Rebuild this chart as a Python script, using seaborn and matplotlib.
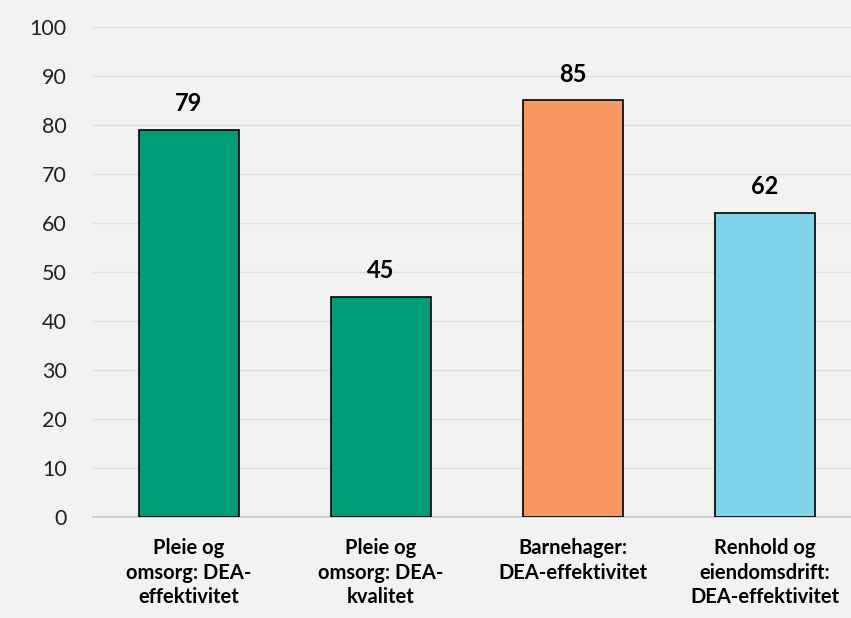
import matplotlib
matplotlib.use("Agg")
import matplotlib.pyplot as plt
import seaborn as sns
import pandas as pd

categories = ["Pleie og\nomsorg: DEA-\neffektivitet",
              "Pleie og\nomsorg: DEA-\nkvalitet",
              "Barnehager:\nDEA-effektivitet",
              "Renhold og\neiendomsdrift:\nDEA-effektivitet"]
values = [79, 45, 85, 62]
colors = ["#009B77", "#009B77", "#F79862", "#7FD4EA"]
yticks = [0, 10, 20, 30, 40, 50, 60, 70, 80, 90, 100]

sns.set_theme(style="white")
plt.rcParams['font.family'] = ['Lato', 'DejaVu Sans']

fig = plt.figure(figsize=(8.51, 6.18), dpi=100, facecolor="#F2F2F2")
ax = fig.add_axes([93/851, (618-517)/618, 1 - 93/851, (517-27)/618])
ax.set_facecolor("#F2F2F2")

df = pd.DataFrame({"cat": categories, "val": values})
sns.barplot(data=df, x="cat", y="val", hue="cat", palette=colors, legend=False,
            saturation=1, width=0.52, edgecolor="black", linewidth=1.2, ax=ax, zorder=3)

ax.set_ylim(0, 100)
ax.set_xlim(-0.5, 3.45)
ax.set_yticks(yticks)
ax.yaxis.grid(True, color="#E0E0E0", linewidth=1, zorder=0)
ax.set_axisbelow(True)
for s in ["top", "right", "left"]:
    ax.spines[s].set_visible(False)
ax.spines["bottom"].set_color("#C8C8C8")
ax.spines["bottom"].set_linewidth(1.2)
ax.set_xlabel("")
ax.set_ylabel("")
ax.tick_params(axis="y", labelsize=15.5, length=0, pad=19, labelcolor="#222222")
ax.tick_params(axis="x", labelsize=14.5, length=0, pad=15, labelcolor="black")
for lab in ax.get_xticklabels():
    lab.set_fontweight("bold")
    lab.set_linespacing(1.3)

for i, v in enumerate(values):
    ax.text(i, v + 3, str(v), ha="center", va="bottom", fontsize=17, fontweight="bold",
            color="black")

fig.savefig("out.png", dpi=100, facecolor=fig.get_facecolor())
